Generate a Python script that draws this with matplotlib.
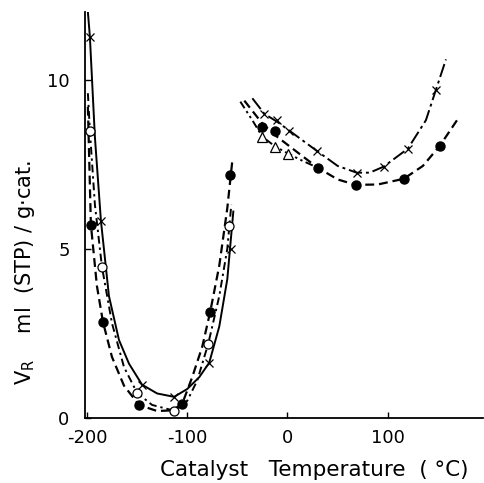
import matplotlib
matplotlib.use("Agg")
import matplotlib.pyplot as plt

plt.rcParams["font.family"] = ["DejaVu Sans"]

# measured points, left branch (low temperature)
cross_lo_t = [-197, -186, -145, -113, -78, -56]
cross_lo_v = [11.27, 5.83, 0.98, 0.62, 1.63, 5.0]
open_lo_t = [-197, -185, -150, -113, -79, -58]
open_lo_v = [8.49, 4.47, 0.74, 0.21, 2.19, 5.68]
fill_lo_t = [-196, -184, -148, -105, -77, -57]
fill_lo_v = [5.71, 2.84, 0.38, 0.41, 3.14, 7.19]

# measured points, right branch (high temperature)
cross_hi_t = [-23, -10, 2, 29, 69, 96, 120, 148]
cross_hi_v = [8.99, 8.82, 8.49, 7.90, 7.25, 7.43, 7.96, 9.70]
fill_hi_t = [-25, -12, 30, 68, 116, 152]
fill_hi_v = [8.61, 8.49, 7.40, 6.89, 7.07, 8.05]
tri_hi_t = [-25, -12, 1]
tri_hi_v = [8.31, 8.02, 7.81]

# hand-drawn guide curves
cross_lo_curve_t = [-199, -197, -192, -186, -178, -168, -158, -145, -130, -113, -100, -88, -78, -68, -60, -54]
cross_lo_curve_v = [12.0, 11.27, 8.3, 5.83, 3.6, 2.3, 1.6, 0.98, 0.72, 0.62, 0.85, 1.2, 1.63, 2.7, 4.1, 6.1]
open_lo_curve_t = [-199, -197, -192, -185, -175, -163, -150, -135, -113, -100, -90, -79, -68, -60, -56]
open_lo_curve_v = [9.6, 8.49, 6.3, 4.47, 2.8, 1.5, 0.74, 0.38, 0.21, 0.5, 1.1, 2.19, 3.6, 5.0, 6.3]
fill_lo_curve_t = [-199, -196, -190, -184, -175, -163, -148, -130, -115, -105, -95, -85, -77, -68, -60, -55]
fill_lo_curve_v = [9.2, 5.71, 3.9, 2.84, 1.8, 0.95, 0.38, 0.2, 0.22, 0.41, 1.2, 2.1, 3.14, 4.5, 6.2, 7.6]

cross_hi_curve_t = [-35, -23, -10, 2, 29, 50, 69, 82, 96, 120, 138, 148, 158]
cross_hi_curve_v = [9.45, 8.99, 8.75, 8.49, 7.9, 7.45, 7.25, 7.25, 7.43, 7.96, 8.8, 9.70, 10.6]
fill_hi_curve_t = [-43, -25, -12, 10, 30, 50, 68, 90, 116, 135, 152, 169]
fill_hi_curve_v = [9.38, 8.7, 8.35, 7.85, 7.40, 7.05, 6.89, 6.9, 7.07, 7.45, 8.05, 8.8]
tri_hi_curve_t = [-47, -35, -25, -12, 1, 15, 30]
tri_hi_curve_v = [9.35, 8.8, 8.31, 8.02, 7.81, 7.6, 7.4]

x_ticks = [-200, -100, 0, 100]
y_ticks = [0, 5, 10]

fig = plt.figure(figsize=(4.85, 4.83), dpi=100)
ax = fig.add_axes([0.175, 0.135, 0.821, 0.840])

k = "black"
longdash = (0, (7, 2, 1.5, 2))
dashdot = (0, (4, 2, 1.2, 2))
dashed = (0, (4, 2.2))
dashdotdot = (0, (4, 1.8, 1.2, 1.8, 1.2, 1.8))

ax.plot(cross_lo_curve_t, cross_lo_curve_v, color=k, lw=1.4, ls="-")
ax.plot(open_lo_curve_t, open_lo_curve_v, color=k, lw=1.4, ls=dashdot)
ax.plot(fill_lo_curve_t, fill_lo_curve_v, color=k, lw=1.6, ls=dashed)

ax.plot(cross_hi_curve_t, cross_hi_curve_v, color=k, lw=1.4, ls=longdash)
ax.plot(fill_hi_curve_t, fill_hi_curve_v, color=k, lw=1.6, ls=dashed)
ax.plot(tri_hi_curve_t, tri_hi_curve_v, color=k, lw=1.4, ls=dashdotdot)

ax.plot(cross_lo_t, cross_lo_v, "x", color=k, ms=6, mew=0.9)
ax.plot(open_lo_t, open_lo_v, "o", mfc="white", mec=k, ms=6.5, mew=0.9)
ax.plot(fill_lo_t, fill_lo_v, "o", color=k, ms=6.5)
ax.plot(cross_hi_t, cross_hi_v, "x", color=k, ms=6, mew=0.9)
ax.plot(fill_hi_t, fill_hi_v, "o", color=k, ms=6.5)
ax.plot(tri_hi_t, tri_hi_v, "^", mfc="white", mec=k, ms=6.5, mew=0.9)

ax.set_xlim(-202, 195)
ax.set_ylim(0, 12)
ax.set_xticks(x_ticks)
ax.set_xticklabels(["-200", "-100", "0", "100"])
ax.set_yticks(y_ticks)
ax.tick_params(direction="in", length=4, width=1, labelsize=13, pad=8)
ax.tick_params(axis="y", pad=11)

for s in ["top", "right"]:
    ax.spines[s].set_visible(False)
for s in ["left", "bottom"]:
    ax.spines[s].set_linewidth(1.3)

ax.set_xlabel("Catalyst   Temperature  ( \u00b0C)", fontsize=15.5, labelpad=4)
ax.xaxis.set_label_coords(0.575, -0.105)
fig.text(0.052, 1 - 272 / 483, "V$_\\mathregular{R}$    ml  (STP) / g\u00b7cat.",
         rotation=90, ha="center", va="center", fontsize=15)

fig.savefig("out.png", dpi=100)
